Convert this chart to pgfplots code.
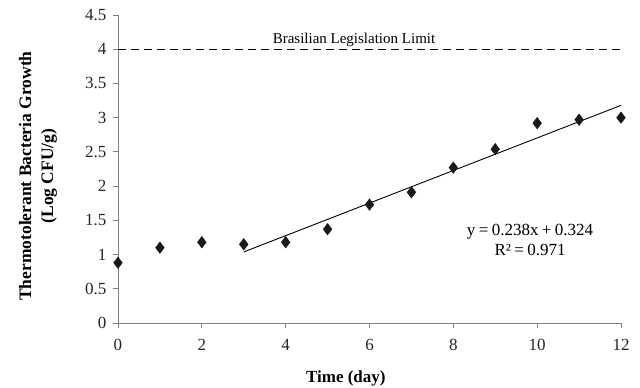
\documentclass[border=0pt]{standalone}
\usepackage{pgfplots}
\pgfplotsset{compat=1.18}
\usepackage{fontspec}
\setmainfont{Liberation Serif}
\begin{document}
\begin{tikzpicture}
\useasboundingbox (-118bp,-65bp) rectangle (522bp,323bp);
\begin{axis}[
  scale only axis,
  width=503bp, height=308bp,
  at={(0,0)}, anchor=south west,
  xmin=0, xmax=12, ymin=0, ymax=4.5,
  xtick={0,2,...,12},
  ytick={0,0.5,...,4.5},
  axis x line*=bottom, axis y line*=left,
  axis line style={draw=black!50, line width=0.8pt, -},
  tick style={draw=black!50, line width=0.8pt},
  tick align=outside,
  major tick length=5bp,
  /pgf/number format/assume math mode=true,
  tick label style={font=\fontsize{17bp}{19bp}\selectfont, text=black!85},
  xticklabel style={yshift=-8bp},
  yticklabel style={xshift=-3bp},
  xlabel={\textbf{Time (day)}},
  xlabel style={font=\fontsize{17bp}{19bp}\selectfont, at={(axis description cs:0.453,0)}, anchor=center, yshift=-55bp},
  ylabel={\textbf{Thermotolerant Bacteria Growth}\\\textbf{(Log CFU/g)}},
  ylabel style={font=\fontsize{17.5bp}{22bp}\selectfont, align=center, at={(axis description cs:-0.159,0.477)}, anchor=center, rotate=0},
  clip=false,
]
\addplot[only marks, mark=diamond*, mark size=5.8bp, black!90, mark options={fill=black!90, draw=black!90}] coordinates {
  (0,0.88) (1,1.10) (2,1.18) (3,1.15) (4,1.18) (5,1.37) (6,1.73)
  (7,1.91) (8,2.27) (9,2.54) (10,2.92) (11,2.97) (12,3.00)
};
\addplot[black, line width=0.9pt] coordinates {(3,1.038) (12,3.18)};
\addplot[black, line width=0.9pt, dash pattern=on 8bp off 5bp] coordinates {(0,4) (12,4)};
\node[font=\fontsize{15bp}{17bp}\selectfont, anchor=base] at (axis cs:5.63,4.09) {Brasilian Legislation Limit};
\node[font=\fontsize{17bp}{20bp}\selectfont, align=center] at (axis cs:9.83,1.22) {y\hspace{0.2em}=\hspace{0.2em}0.238x\hspace{0.2em}+\hspace{0.2em}0.324\\R²\hspace{0.2em}=\hspace{0.2em}0.971};
\end{axis}
\end{tikzpicture}
\end{document}
